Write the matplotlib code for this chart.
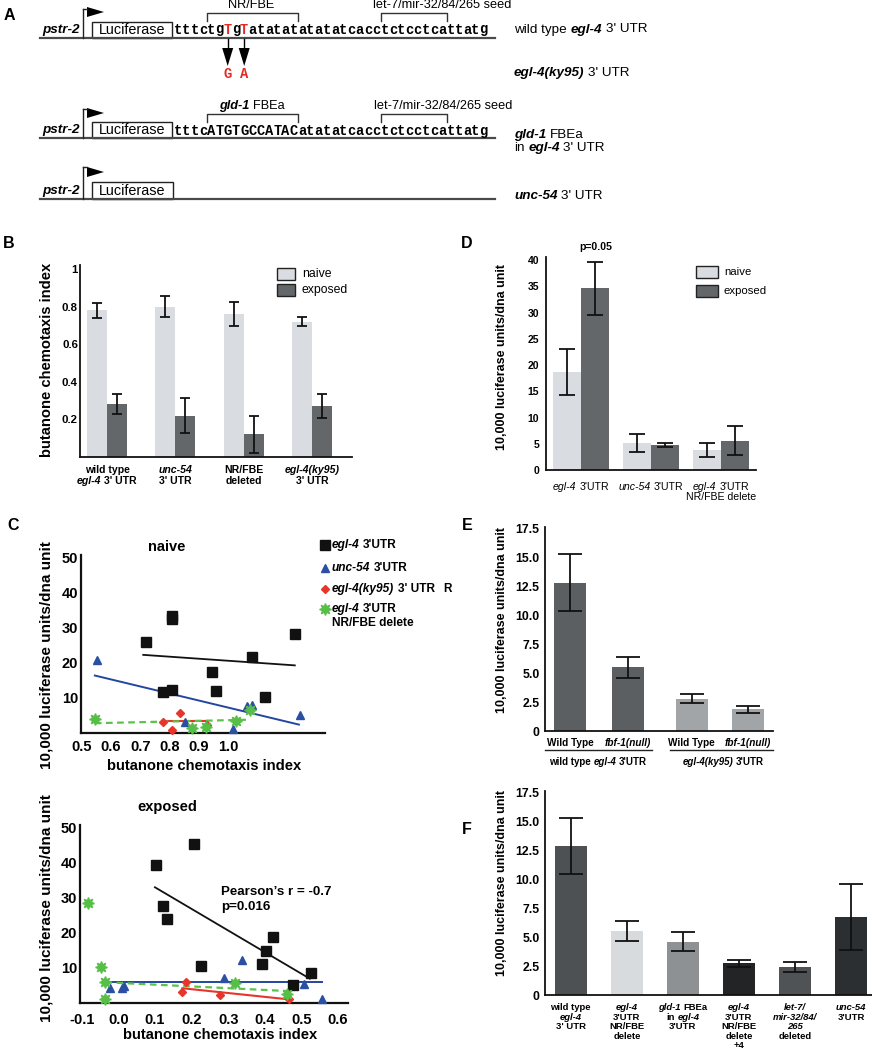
import numpy as np
import matplotlib
matplotlib.use("Agg")
import matplotlib.pyplot as plt
from matplotlib import transforms as mtransforms, font_manager
from matplotlib.patches import Rectangle, Polygon
from matplotlib.lines import Line2D

# ======================= DATA =======================
# Panel A : sequences
SEQ_WT = "tttctgTgTatatatatatatcacctctcctcattatg"
SEQ_GLD = "tttcATGTGCCATACatatatcacctctcctcattatg"
RED_IDX = [6, 8]
MUT_BASES = ["G", "A"]

# Panel B : butanone chemotaxis index
B_CATS = [[[("wild type", "")], [("egl-4", "i"), (" 3' UTR", "")]],
          [[("unc-54", "i")], [("3' UTR", "")]],
          [[("NR/FBE", "")], [("deleted", "")]],
          [[("egl-4(ky95)", "i")], [("3' UTR", "")]]]
b_naive = [0.78, 0.80, 0.76, 0.72]
b_naive_err = [0.04, 0.055, 0.065, 0.023]
b_exposed = [0.28, 0.22, 0.12, 0.27]
b_exposed_err = [0.053, 0.093, 0.10, 0.064]
B_YTICKS = [0.2, 0.4, 0.6, 0.8, 1.0]
B_YTICKLABELS = ["0.2", "0.4", "0.6", "0.8", "1"]

# Panel C : naive scatter
cn_egl4_x = [0.718, 0.807, 0.807, 0.776, 0.807, 0.944, 0.957, 1.080, 1.127, 1.227]
cn_egl4_y = [26.1, 33.4, 32.4, 11.6, 12.3, 17.3, 12.0, 21.8, 10.2, 28.2]
cn_unc54_x = [0.551, 0.852, 1.017, 1.063, 1.080, 1.244]
cn_unc54_y = [20.7, 3.1, 1.2, 7.6, 8.1, 5.0]
cn_ky95_x = [0.776, 0.835, 0.807, 0.928]
cn_ky95_y = [3.1, 5.7, 0.9, 2.4]
cn_del_x = [0.545, 0.875, 0.923, 1.028, 1.074]
cn_del_y = [4.0, 1.4, 1.7, 3.4, 6.5]
cn_fit_egl4 = ([0.710, 1.227], [22.3, 19.3])
cn_fit_unc54 = ([0.545, 1.241], [16.4, 2.4])
cn_fit_ky95 = ([0.776, 0.928], [3.3, 3.3])
cn_fit_del = ([0.545, 1.074], [2.8, 3.8])
CN_XTICKS = [0.5, 0.6, 0.7, 0.8, 0.9, 1.0]
CN_YTICKS = [10, 20, 30, 40, 50]

# Panel C : exposed scatter
ce_egl4_x = [0.102, 0.207, 0.123, 0.132, 0.227, 0.402, 0.423, 0.393, 0.527, 0.477]
ce_egl4_y = [39.2, 45.2, 27.5, 24.0, 10.5, 14.9, 18.8, 11.1, 8.6, 5.1]
ce_unc54_x = [-0.023, 0.011, 0.016, 0.289, 0.339, 0.506, 0.556]
ce_unc54_y = [4.3, 4.3, 4.8, 7.2, 12.2, 5.5, 1.0]
ce_ky95_x = [0.186, 0.175, 0.277, 0.466]
ce_ky95_y = [6.0, 3.1, 2.2, 1.0]
ce_del_x = [-0.084, -0.047, -0.035, -0.035, 0.318, 0.461]
ce_del_y = [28.4, 10.2, 5.9, 1.2, 5.6, 2.5]
ce_fit_egl4 = ([0.100, 0.523], [32.9, 6.9])
ce_fit_unc54 = ([-0.034, 0.555], [5.9, 5.9])
ce_fit_ky95 = ([0.175, 0.468], [4.2, 1.0])
ce_fit_del = ([-0.035, 0.461], [5.9, 3.4])
CE_XTICKS = [-0.1, 0.0, 0.1, 0.2, 0.3, 0.4, 0.5, 0.6]
CE_XTICKLABELS = ["-0.1", "0.0", "0.1", "0.2", "0.3", "0.4", "0.5", "0.6"]
PEARSON = ["Pearson\u2019s r = -0.7", "p=0.016"]
C_LEGEND = [[("egl-4", "i"), (" 3'UTR", "")],
            [("unc-54", "i"), (" 3'UTR", "")],
            [("egl-4(ky95)", "i"), (" 3' UTR", "")],
            [("egl-4", "i"), (" 3'UTR", "")]]

# Panel D : luciferase naive vs exposed
D_CATS = [[[("egl-4", "i"), (" 3'UTR", "")]],
          [[("unc-54", "i"), (" 3'UTR", "")]],
          [[("egl-4", "i"), (" 3'UTR", "")], [("NR/FBE delete", "")]]]
d_naive = [18.7, 5.2, 3.8]
d_naive_err = [4.35, 1.75, 1.4]
d_exposed = [34.6, 4.75, 5.6]
d_exposed_err = [5.05, 0.35, 2.75]
D_YTICKS = [0, 5, 10, 15, 20, 25, 30, 35, 40]

# Panel E
E_CATS = [[("Wild Type", "")], [("fbf-1(null)", "i")],
          [("Wild Type", "")], [("fbf-1(null)", "i")]]
E_GROUPS = [[("wild type ", ""), ("egl-4", "i"), (" 3'UTR", "")],
            [("egl-4(ky95)", "i"), (" 3'UTR", "")]]
e_vals = [12.8, 5.5, 2.79, 1.87]
e_err = [2.45, 0.9, 0.38, 0.32]
EF_YTICKS = [0, 2.5, 5.0, 7.5, 10.0, 12.5, 15.0, 17.5]
EF_YTICKLABELS = ["0", "2.5", "5.0", "7.5", "10.0", "12.5", "15.0", "17.5"]

# Panel F
F_CATS = [[[("wild type", "")], [("egl-4", "i")], [("3' UTR", "")]],
          [[("egl-4", "i")], [("3'UTR", "")], [("NR/FBE", "")], [("delete", "")]],
          [[("gld-1", "i"), (" FBEa", "")], [("in ", ""), ("egl-4", "i")], [("3'UTR", "")]],
          [[("egl-4", "i")], [("3'UTR", "")], [("NR/FBE", "")], [("delete", "")], [("+4", "")]],
          [[("let-7/", "i")], [("mir-32/84/", "i")], [("265", "i")], [("deleted", "")]],
          [[("unc-54", "i")], [("3'UTR", "")]]]
f_vals = [12.85, 5.5, 4.6, 2.73, 2.39, 6.75]
f_err = [2.45, 0.87, 0.83, 0.30, 0.42, 2.85]

# ======================= STYLE / LAYOUT =======================
C_NAIVE = "#d9dce0"
C_EXPOSED = "#63676a"
E_COLORS = ["#5b5f62", "#5b5f62", "#a2a5a8", "#a2a5a8"]
F_COLORS = ["#4d5154", "#d8dbde", "#8d9194", "#222426", "#4f5356", "#2b2f31"]
E_POS = [0, 1, 2.1, 3.07]

W, H = 872, 1050
fig = plt.figure(figsize=(W / 100, H / 100), dpi=100)
fig.patch.set_facecolor("white")
PX = mtransforms.Affine2D().scale(1 / 100, -1 / 100).translate(0, H / 100) + fig.dpi_scale_trans

_names = {f.name for f in font_manager.fontManager.ttflist}
SANS = "Liberation Sans" if "Liberation Sans" in _names else "DejaVu Sans"
if "Liberation Sans Narrow" in _names:
    NARROW, NSIZE = "Liberation Sans Narrow", 11.0
else:
    NARROW, NSIZE = SANS, 9.7
MONO = "Liberation Mono" if "Liberation Mono" in _names else "DejaVu Sans Mono"
plt.rcParams["font.family"] = [SANS, "DejaVu Sans"]
RND = fig.canvas.get_renderer()


def rich(x, y, parts, size, ha="left", va="center", bold=True, color="black", family=None):
    fam = family or SANS
    sp = 0.278 * size / 72 * 100
    arts = []
    for seg in parts:
        s, st = seg[0], seg[1]
        col = seg[2] if len(seg) > 2 else color
        lead = len(s) - len(s.lstrip(" "))
        trail = len(s) - len(s.rstrip(" "))
        core = s.strip(" ")
        wgt = "bold" if ((bold or "b" in st) and "n" not in st) else "normal"
        t = fig.text(0, 0, core, transform=PX, fontsize=size, family=[fam, "DejaVu Sans"],
                     fontstyle="italic" if "i" in st else "normal",
                     fontweight=wgt, color=col, ha="left", va=va)
        w = t.get_window_extent(RND).width * 100 / fig.dpi if core else 0
        arts.append((t, lead * sp, w, trail * sp))
    total = sum(a + b + c for _, a, b, c in arts)
    x0 = x - total / 2 if ha == "center" else (x - total if ha == "right" else x)
    for t, a, w, c in arts:
        x0 += a
        t.set_position((x0, y))
        x0 += w + c


def ptext(x, y, s, size, **kw):
    kw.setdefault("ha", "center")
    kw.setdefault("va", "center")
    return fig.text(x, y, s, transform=PX, fontsize=size, **kw)


def line_px(xs, ys, **kw):
    fig.add_artist(Line2D(xs, ys, transform=PX, **kw))


def poly_px(pts, **kw):
    fig.add_artist(Polygon(pts, closed=True, transform=PX, **kw))


def rect_px(x, y, w, h, **kw):
    fig.add_artist(Rectangle((x, y), w, h, transform=PX, **kw))


def axes_px(l, t, r, b):
    ax = fig.add_axes([l / W, 1 - b / H, (r - l) / W, (b - t) / H])
    for s in ("top", "right"):
        ax.spines[s].set_visible(False)
    for s in ("left", "bottom"):
        ax.spines[s].set_linewidth(1.3)
        ax.spines[s].set_color("#111111")
    ax.tick_params(length=0)
    ax.patch.set_alpha(0)
    return ax


def d2px(ax, x, y):
    dx, dy = ax.transData.transform((x, y))
    return dx * 100 / fig.dpi, H - dy * 100 / fig.dpi


def panel_label(x, y, s):
    ptext(x, y, s, 11.5, fontweight="bold")


# ======================= PANEL A =======================
panel_label(9, 16, "A")
CH = 8.26
SX = 174.0


def cx(i):
    return SX + (i + 0.5) * CH


def construct(base, prom_top, tri, box, seq=None, red=(), seq_base=None):
    line_px([40, 495], [base, base], color="#4a4a4a", lw=1.6)
    line_px([83, 83], [base, prom_top], color="#222222", lw=1.0)
    line_px([83, 87], [prom_top, prom_top], color="#222222", lw=1.0)
    poly_px([(87, tri[0]), (87, tri[1]), (104, (tri[0] + tri[1]) / 2)], color="black", lw=0)
    rect_px(92, box[0], box[2] - 92, base - box[0], fill=False, ec="#222222", lw=1.0)
    ptext((92 + box[2]) / 2, (box[0] + base) / 2 + 0.5, "Luciferase", NSIZE + 0.7,
          family=[NARROW, "DejaVu Sans"])
    ptext(42, (box[0] + base) / 2 + 0.5, "pstr-2", NSIZE, ha="left", fontstyle="italic",
          fontweight="bold", family=[NARROW, "DejaVu Sans"])
    if seq:
        for i, c in enumerate(seq):
            ptext(cx(i), seq_base, c, 9.9, va="baseline", family=[MONO, "DejaVu Sans Mono"],
                  fontweight="bold", color="#e32b22" if i in red else "black")


def bracket(i0, i1, top, leg):
    x0, x1 = SX + i0 * CH, SX + (i1 + 1) * CH
    line_px([x0, x0, x1, x1], [leg, top, top, leg], color="#333333", lw=1.0)


# row 1
construct(37.5, 9, (7, 17), (22, 0, 172), SEQ_WT, RED_IDX, 33.5)
bracket(4, 14, 12.5, 20.5)
bracket(25, 32, 12.5, 20.5)
ptext(251, 5.5, "NR/FBE", NSIZE * 0.95, family=[NARROW, "DejaVu Sans"])
ptext(373, 5.5, "let-7/mir-32/84/265 seed", NSIZE * 0.95, ha="left", family=[NARROW, "DejaVu Sans"])
for k, i in enumerate(RED_IDX):
    x = cx(i)
    line_px([x, x], [38.5, 49], color="black", lw=1.0)
    poly_px([(x - 5.5, 48), (x + 5.5, 48), (x, 66)], color="black", lw=0)
    ptext(x, 78, MUT_BASES[k], 9.9, va="baseline", family=[MONO, "DejaVu Sans Mono"],
          fontweight="bold", color="#e32b22")
rich(514, 29.5, [("wild type ", ""), ("egl-4", "ib"), (" 3' UTR", "")], NSIZE, bold=False, family=NARROW)
rich(514, 73, [("egl-4(ky95)", "ib"), (" 3' UTR", "")], NSIZE, bold=False, family=NARROW)

# row 2
construct(138, 109, (108, 118), (122, 0, 172), SEQ_GLD, (), 135)
bracket(4, 14, 113.5, 122)
bracket(25, 32, 113.5, 122)
rich(252, 106, [("gld-1", "ib"), (" FBEa", "")], NSIZE * 0.95, ha="center", bold=False, family=NARROW)
ptext(374, 106, "let-7/mir-32/84/265 seed", NSIZE * 0.95, ha="left", family=[NARROW, "DejaVu Sans"])
rich(514, 135, [("gld-1", "ib"), (" FBEa", "")], NSIZE, bold=False, family=NARROW)
rich(514, 148, [("in ", ""), ("egl-4", "ib"), (" 3' UTR", "")], NSIZE, bold=False, family=NARROW)

# row 3
construct(198.5, 167, (167, 177), (182, 0, 173))
rich(514, 196, [("unc-54", "ib"), (" 3' UTR", "")], NSIZE, bold=False, family=NARROW)

# ======================= PANEL B =======================
panel_label(9, 243, "B")
axB = axes_px(80, 265, 352, 457)
xb = np.arange(len(b_naive))
BW = 0.292
axB.bar(xb - BW / 2, b_naive, BW, color=C_NAIVE, lw=0)
axB.bar(xb + BW / 2, b_exposed, BW, color=C_EXPOSED, lw=0)
ekw = dict(fmt="none", ecolor="#111111", elinewidth=1.3, capthick=1.3)
axB.errorbar(xb - BW / 2, b_naive, yerr=b_naive_err, capsize=3.6, **ekw)
axB.errorbar(xb + BW / 2, b_exposed, yerr=b_exposed_err, capsize=3.6, **ekw)
axB.set_xlim(-0.394, 3.577)
axB.set_ylim(0, 1.021)
axB.set_xticks([])
axB.set_yticks(B_YTICKS, labels=B_YTICKLABELS, fontsize=8.2, fontweight="bold")
axB.tick_params(axis="y", pad=1.5)
ptext(47, 360, "butanone chemotaxis index", 10.6, rotation=90, fontweight="bold")
for i, lines in enumerate(B_CATS):
    px, _ = d2px(axB, xb[i], 0)
    for j, ln in enumerate(lines):
        rich(px, 470 + j * 10.5, ln, 7.6, ha="center")
rect_px(277, 268, 18, 12, fc=C_NAIVE, ec="#222222", lw=1.0)
rect_px(277, 284, 18, 12, fc=C_EXPOSED, ec="#222222", lw=1.0)
ptext(302, 274, "naive", 8.8, ha="left")
ptext(302, 290, "exposed", 8.8, ha="left")

# ======================= PANEL C =======================
panel_label(13, 525, "C")


def scatter_panel(ax, sets, fits):
    mk = [("s", "#111111", 7.0, "#111111"), ("^", "#2b4fa3", 6.0, "#2b4fa3"),
          ("D", "#e8352b", 4.4, "#e8352b"), ((8, 1, 0), "#57bf47", 8.5, "#57bf47")]
    styles = [dict(color="#111111", lw=1.3), dict(color="#2346a0", lw=1.4),
              dict(color="#e8352b", lw=1.5), dict(color="#5cc24a", lw=1.6, ls=(0, (3, 2)))]
    for (fx, fy), st in zip(fits, styles):
        ax.plot(fx, fy, zorder=2, **st)
    for (sx, sy), (m, c, ms, ec) in zip(sets, mk):
        ax.plot(sx, sy, ls="none", marker=m, color=c, ms=ms, mec=ec, zorder=3, clip_on=False)


axCn = axes_px(81, 555, 325, 733)
scatter_panel(axCn, [(cn_egl4_x, cn_egl4_y), (cn_unc54_x, cn_unc54_y),
                     (cn_ky95_x, cn_ky95_y), (cn_del_x, cn_del_y)],
              [cn_fit_egl4, cn_fit_unc54, cn_fit_ky95, cn_fit_del])
axCn.set_xlim(0.4977, 1.33)
axCn.set_ylim(0, 50.8)
axCn.set_xticks(CN_XTICKS, labels=[f"{v:.1f}" for v in CN_XTICKS], fontsize=10.5, fontweight="bold")
axCn.set_yticks(CN_YTICKS, labels=[str(v) for v in CN_YTICKS], fontsize=10.5, fontweight="bold")
axCn.tick_params(axis="x", pad=5)
axCn.tick_params(axis="y", pad=2)
for s in ("left", "bottom"):
    axCn.spines[s].set_linewidth(1.6)
ptext(167, 547, "naive", 10.5, fontweight="bold")
ptext(204, 766, "butanone chemotaxis index", 10.6, fontweight="bold")
ptext(47, 655, "10,000 luciferase units/dna unit", 11, rotation=90, fontweight="bold")

# legend
leg_mk = [("s", "#111111", 7.5), ("^", "#2b4fa3", 6.0), ("D", "#e8352b", 4.4), ((8, 1, 0), "#57bf47", 8.5)]
leg_y = [545, 568, 589, 609]
for (m, c, ms), y, lab in zip(leg_mk, leg_y, C_LEGEND):
    fig.add_artist(Line2D([325], [y], transform=PX, ls="none", marker=m, color=c, ms=ms))
    rich(332, y, lab, 8.6)
rich(332, 623, [("NR/FBE delete", "")], 8.6)
ptext(447, 589, "R", 8.5, fontweight="bold")

axCe = axes_px(80, 825, 348, 1003)
scatter_panel(axCe, [(ce_egl4_x, ce_egl4_y), (ce_unc54_x, ce_unc54_y),
                     (ce_ky95_x, ce_ky95_y), (ce_del_x, ce_del_y)],
              [ce_fit_egl4, ce_fit_unc54, ce_fit_ky95, ce_fit_del])
axCe.set_xlim(-0.1045, 0.627)
axCe.set_ylim(0, 50.6)
axCe.set_xticks(CE_XTICKS, labels=CE_XTICKLABELS, fontsize=10.5, fontweight="bold")
axCe.set_yticks(CN_YTICKS, labels=[str(v) for v in CN_YTICKS], fontsize=10.5, fontweight="bold")
axCe.tick_params(axis="x", pad=7)
axCe.tick_params(axis="y", pad=2)
for s in ("left", "bottom"):
    axCe.spines[s].set_linewidth(1.6)
ptext(167, 807, "exposed", 10.5, fontweight="bold")
ptext(220, 1035, "butanone chemotaxis index", 10.6, fontweight="bold")
ptext(47, 908, "10,000 luciferase units/dna unit", 11, rotation=90, fontweight="bold")
ptext(221, 892, PEARSON[0], 9.6, ha="left", fontweight="bold")
ptext(221, 907, PEARSON[1], 9.6, ha="left", fontweight="bold")

# ======================= PANEL D =======================
panel_label(467, 243, "D")
axD = axes_px(546, 257, 756, 470)
xd = np.arange(len(d_naive))
DW = 0.4
axD.bar(xd - DW / 2, d_naive, DW, color=C_NAIVE, lw=0)
axD.bar(xd + DW / 2, d_exposed, DW, color=C_EXPOSED, lw=0)
axD.errorbar(xd - DW / 2, d_naive, yerr=d_naive_err, capsize=6, **ekw)
axD.errorbar(xd + DW / 2, d_exposed, yerr=d_exposed_err, capsize=6, **ekw)
axD.set_xlim(-0.5, 2.5)
axD.set_ylim(0, 40.6)
axD.set_xticks([])
axD.set_yticks(D_YTICKS, labels=[str(v) for v in D_YTICKS], fontsize=7.5, fontweight="bold")
axD.tick_params(axis="y", pad=5)
ptext(502, 357, "10,000 luciferase units/dna unit", 9, rotation=90, fontweight="bold")
px0, _ = d2px(axD, xd[0] + DW / 2, 0)
ptext(px0 + 1, 247, "p=0.05", 7.6, fontweight="bold", family=[NARROW, "DejaVu Sans"])
for i, lines in enumerate(D_CATS):
    px, _ = d2px(axD, xd[i], 0)
    for j, ln in enumerate(lines):
        rich(px, 487 + j * 10, ln, 7.6, ha="center", bold=False)
rect_px(696, 266, 22, 12, fc=C_NAIVE, ec="#222222", lw=1.0)
rect_px(696, 285, 22, 12, fc=C_EXPOSED, ec="#222222", lw=1.0)
ptext(724, 272, "naive", 8.2, ha="left")
ptext(724, 291, "exposed", 8.2, ha="left")

# ======================= PANEL E =======================
panel_label(467, 526, "E")
axE = axes_px(545, 527, 773, 731)
EWID = 0.55
axE.bar(E_POS, e_vals, EWID, color=E_COLORS, lw=0)
axE.errorbar(E_POS, e_vals, yerr=e_err, capsize=8.5, **ekw)
axE.set_xlim(-0.43, 3.5)
axE.set_ylim(0, 17.6)
axE.set_xticks([])
axE.set_yticks(EF_YTICKS, labels=EF_YTICKLABELS, fontsize=8.8, fontweight="bold")
axE.tick_params(axis="y", pad=4)
ptext(502, 620, "10,000 luciferase units/dna unit", 9, rotation=90, fontweight="bold")
for i, lab in enumerate(E_CATS):
    px, _ = d2px(axE, E_POS[i], 0)
    rich(px, 743, lab, 7.2, ha="center")
line_px([545, 652], [749.5, 749.5], color="#222222", lw=1.0)
line_px([670, 773], [749.5, 749.5], color="#222222", lw=1.0)
rich(598, 762, E_GROUPS[0], 7.0, ha="center")
rich(723, 762, E_GROUPS[1], 7.0, ha="center")

# ======================= PANEL F =======================
panel_label(467, 829, "F")
axF = axes_px(545, 791, 872, 995)
xf = np.arange(len(f_vals))
axF.bar(xf, f_vals, 0.57, color=F_COLORS, lw=0)
axF.errorbar(xf, f_vals, yerr=f_err, capsize=8.5, **ekw)
axF.set_xlim(-0.46, 5.375)
axF.set_ylim(0, 17.6)
axF.set_xticks([])
axF.set_yticks(EF_YTICKS, labels=EF_YTICKLABELS, fontsize=8.8, fontweight="bold")
axF.tick_params(axis="y", pad=4)
ptext(502, 883, "10,000 luciferase units/dna unit", 9, rotation=90, fontweight="bold")
for i, lines in enumerate(F_CATS):
    px, _ = d2px(axF, xf[i], 0)
    for j, ln in enumerate(lines):
        rich(px, 1008 + j * 9.4, ln, 6.8, ha="center")

fig.savefig("out.png", dpi=100, facecolor="white")
